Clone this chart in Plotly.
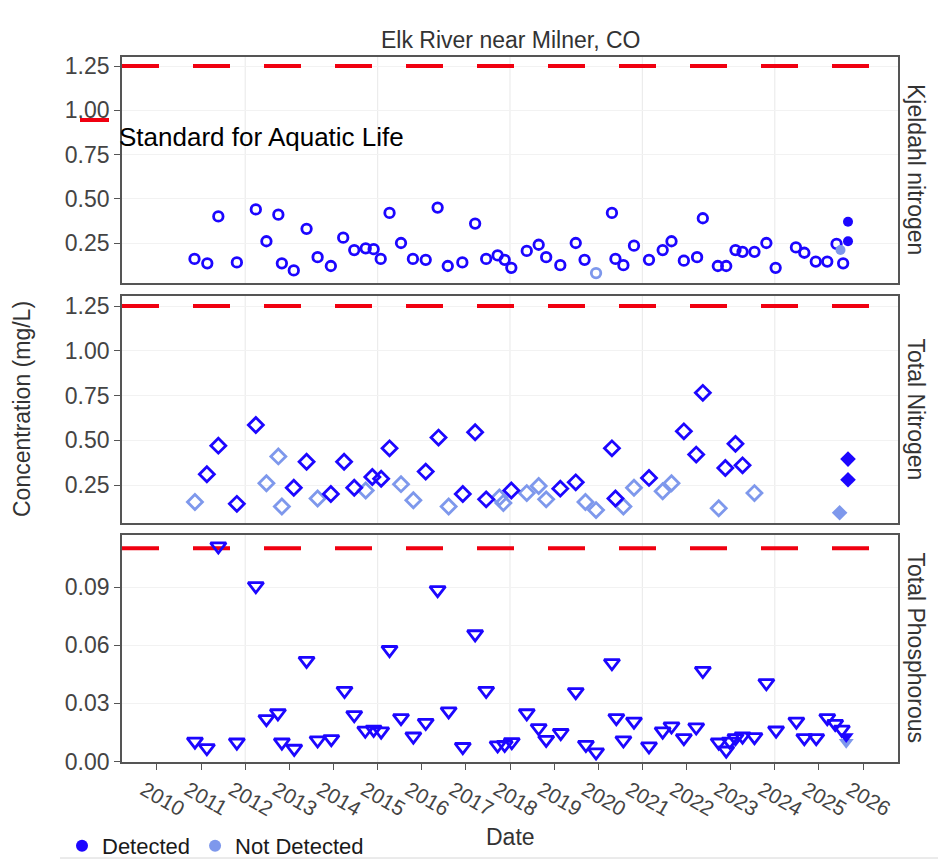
import plotly.graph_objects as go

# ---------------- data ----------------
# Kjeldahl nitrogen (mg/L)
kjn_det_year = [2010.85, 2011.14, 2011.39, 2011.81, 2012.24, 2012.48, 2012.75, 2012.83, 2013.10, 2013.39,
                2013.64, 2013.94, 2014.22, 2014.47, 2014.73, 2014.91, 2015.07, 2015.27, 2015.53, 2015.80,
                2016.09, 2016.36, 2016.59, 2016.92, 2017.21, 2017.46, 2017.72, 2017.88, 2018.03, 2018.38,
                2018.65, 2018.82, 2019.14, 2019.49, 2019.69, 2020.31, 2020.39, 2020.57, 2020.81, 2021.15,
                2021.46, 2021.66, 2021.94, 2022.24, 2022.37, 2022.71, 2022.90, 2023.11, 2023.27, 2023.54,
                2023.81, 2024.02, 2024.48, 2024.67, 2024.93, 2025.19, 2025.40, 2025.55]
kjn_det_val = [0.16, 0.135, 0.40, 0.14, 0.44, 0.26, 0.41, 0.135, 0.095, 0.33,
               0.17, 0.12, 0.28, 0.21, 0.22, 0.215, 0.16, 0.42, 0.25, 0.16,
               0.155, 0.45, 0.12, 0.14, 0.36, 0.16, 0.18, 0.155, 0.11, 0.205,
               0.24, 0.17, 0.125, 0.25, 0.155, 0.42, 0.16, 0.125, 0.235, 0.155,
               0.21, 0.26, 0.15, 0.17, 0.39, 0.12, 0.12, 0.21, 0.20, 0.20,
               0.25, 0.11, 0.225, 0.195, 0.145, 0.145, 0.245, 0.135]
kjn_nd_year = [2019.95]
kjn_nd_val = [0.08]
kjn_recent_det_year = [2025.66, 2025.66]
kjn_recent_det_val = [0.37, 0.26]
kjn_recent_nd_year = [2025.49]
kjn_recent_nd_val = [0.21]

# Total nitrogen (mg/L)
tn_det_year = [2011.13, 2011.39, 2011.81, 2012.24, 2013.10, 2013.39, 2013.94, 2014.24, 2014.47, 2014.88,
               2015.08, 2015.27, 2016.09, 2016.38, 2016.93, 2017.21, 2017.46, 2018.03, 2019.14, 2019.49,
               2020.31, 2020.39, 2021.15, 2021.94, 2022.22, 2022.37, 2022.88, 2023.11, 2023.27]
tn_det_val = [0.31, 0.47, 0.145, 0.585, 0.235, 0.38, 0.20, 0.38, 0.235, 0.295,
              0.285, 0.455, 0.325, 0.515, 0.20, 0.545, 0.17, 0.22, 0.23, 0.265,
              0.455, 0.175, 0.29, 0.55, 0.42, 0.765, 0.345, 0.48, 0.36]
tn_nd_year = [2010.86, 2012.48, 2012.75, 2012.83, 2013.64, 2014.73, 2015.53, 2015.81, 2016.61, 2017.76,
              2017.85, 2018.38, 2018.65, 2018.82, 2019.71, 2019.95, 2020.57, 2020.81, 2021.46, 2021.66,
              2022.73, 2023.54]
tn_nd_val = [0.155, 0.26, 0.41, 0.13, 0.175, 0.22, 0.255, 0.165, 0.13, 0.18,
             0.15, 0.205, 0.245, 0.17, 0.155, 0.11, 0.13, 0.235, 0.215, 0.26,
             0.12, 0.205]
tn_recent_det_year = [2025.66, 2025.66]
tn_recent_det_val = [0.395, 0.28]
tn_recent_nd_year = [2025.47]
tn_recent_nd_val = [0.095]

# Total phosphorous (mg/L)
tp_det_year = [2010.86, 2011.13, 2011.39, 2011.81, 2012.24, 2012.48, 2012.74, 2012.83, 2013.11, 2013.39,
               2013.64, 2013.95, 2014.25, 2014.47, 2014.72, 2014.91, 2015.08, 2015.27, 2015.53, 2015.81,
               2016.09, 2016.36, 2016.61, 2016.93, 2017.21, 2017.46, 2017.72, 2017.88, 2018.04, 2018.38,
               2018.65, 2018.82, 2019.15, 2019.49, 2019.72, 2019.95, 2020.31, 2020.41, 2020.57, 2020.81,
               2021.15, 2021.46, 2021.66, 2021.94, 2022.22, 2022.37, 2022.73, 2022.90, 2022.98, 2023.11,
               2023.27, 2023.54, 2023.81, 2024.03, 2024.49, 2024.67, 2024.94, 2025.19, 2025.37, 2025.52]
tp_det_val = [0.0104, 0.0070, 0.1110, 0.0099, 0.0905, 0.0220, 0.0250, 0.0099, 0.0067, 0.0520,
              0.0110, 0.0117, 0.0365, 0.0240, 0.0160, 0.0165, 0.0156, 0.0576, 0.0225, 0.0130,
              0.0200, 0.0885, 0.0260, 0.0076, 0.0657, 0.0365, 0.0084, 0.0087, 0.0101, 0.0250,
              0.0173, 0.0113, 0.0148, 0.0359, 0.0087, 0.0048, 0.0508, 0.0225, 0.0110, 0.0207,
              0.0079, 0.0156, 0.0182, 0.0122, 0.0177, 0.0468, 0.0099, 0.0058, 0.0104, 0.0122,
              0.0130, 0.0127, 0.0405, 0.0161, 0.0207, 0.0122, 0.0122, 0.0225, 0.0195, 0.0165]
tp_recent_det_year = [2025.62]
tp_recent_det_val = [0.013]
tp_recent_nd_year = [2025.62]
tp_recent_nd_val = [0.010]

# Aquatic-life standards drawn as dashed reference lines
standard_vals = [1.25, 1.25, 0.11]
panel_names = ["Kjeldahl nitrogen", "Total Nitrogen", "Total Phosphorous"]
year_ticks = list(range(2010, 2027))
grid_years = [2012, 2015, 2018, 2021, 2024]

# ---------------- styling ----------------
BLUE = "#1c06ff"
LIGHT = "#7e98ec"
RED = "#f00010"
FONT = "Liberation Sans, Arial, sans-serif"
TXT = "#333333"
TICK = "#444444"
BORDER = "#555555"

W, H = 938, 861
L, R, T, B = 122, 898, 57, 762          # plot area in pixels
panel_px = [(57, 283), (296, 523), (535, 762)]
x_range = [2009.207, 2026.793]


def px2x(px):
    return (px - L) / (R - L)


def py2y(py):
    return (B - py) / (B - T)


fig = go.Figure()

series = [
    (kjn_det_year, kjn_det_val, kjn_nd_year, kjn_nd_val,
     kjn_recent_det_year, kjn_recent_det_val, kjn_recent_nd_year, kjn_recent_nd_val,
     "circle", 9.5, 10),
    (tn_det_year, tn_det_val, tn_nd_year, tn_nd_val,
     tn_recent_det_year, tn_recent_det_val, tn_recent_nd_year, tn_recent_nd_val,
     "diamond", 11.5, 12),
    (tp_det_year, tp_det_val, [], [],
     tp_recent_det_year, tp_recent_det_val, tp_recent_nd_year, tp_recent_nd_val,
     "triangle-down", 13.5, 13),
]

for i, (dy, dv, ny, nv, rdy, rdv, rny, rnv, sym, sz, fsz) in enumerate(series):
    xa = "x" if i == 0 else f"x{i + 1}"
    ya = "y" if i == 0 else f"y{i + 1}"
    # standard line first so the samples sit on top of it
    fig.add_trace(go.Scatter(x=x_range, y=[standard_vals[i]] * 2, mode="lines", xaxis=xa, yaxis=ya,
                             showlegend=False, hoverinfo="skip",
                             line=dict(color=RED, width=4, dash="37px,34px")))
    if ny:
        fig.add_trace(go.Scatter(x=ny, y=nv, mode="markers", xaxis=xa, yaxis=ya, showlegend=False,
                                 marker=dict(symbol=sym + "-open", size=sz, color=LIGHT,
                                             line=dict(width=2.8, color=LIGHT))))
    fig.add_trace(go.Scatter(x=dy, y=dv, mode="markers", xaxis=xa, yaxis=ya, showlegend=False,
                             marker=dict(symbol=sym + "-open", size=sz, color=BLUE,
                                         line=dict(width=2.8, color=BLUE))))
    fig.add_trace(go.Scatter(x=rny, y=rnv, mode="markers", xaxis=xa, yaxis=ya,
                             name="Not Detected", legendgroup="nd", showlegend=(i == 0),
                             legendrank=2,
                             marker=dict(symbol=sym, size=fsz, color=LIGHT,
                                         line=dict(width=0))))
    fig.add_trace(go.Scatter(x=rdy, y=rdv, mode="markers", xaxis=xa, yaxis=ya,
                             name="Detected", legendgroup="det", showlegend=(i == 0),
                             legendrank=1,
                             marker=dict(symbol=sym, size=fsz, color=BLUE,
                                         line=dict(width=0))))

layout = dict(
    width=W, height=H,
    margin=dict(l=L, r=W - R, t=T, b=H - B, pad=0, autoexpand=False),
    paper_bgcolor="white", plot_bgcolor="white",
    font=dict(family=FONT, color=TXT),
    showlegend=True,
    legend=dict(orientation="h", x=px2x(62), y=py2y(846), xanchor="left", yanchor="middle",
                font=dict(size=22, color="#1a1a1a", family=FONT), bgcolor="rgba(0,0,0,0)",
                itemsizing="constant", traceorder="normal", itemwidth=30, tracegroupgap=0),
)

yranges = [[0.024, 1.301], [0.038, 1.306], [-0.0002, 0.1168]]
ydticks = [0.25, 0.25, 0.03]
ytick0 = [0.25, 0.25, 0.0]
shapes = []
annotations = []

for i in range(3):
    xk = "xaxis" if i == 0 else f"xaxis{i + 1}"
    yk = "yaxis" if i == 0 else f"yaxis{i + 1}"
    ya = "y" if i == 0 else f"y{i + 1}"
    xa = "x" if i == 0 else f"x{i + 1}"
    top, bot = panel_px[i]
    bottom = i == 2
    layout[xk] = dict(
        domain=[0, 1], anchor=ya, range=x_range, automargin=False,
        tickmode="array", tickvals=year_ticks, ticktext=[str(v) for v in year_ticks],
        showticklabels=bottom, ticks="outside" if bottom else "", ticklen=6, tickwidth=1.3,
        tickcolor=BORDER, tickangle=30, ticklabelshift=-13,
        tickfont=dict(size=21, color=TICK, family=FONT),
        showgrid=False, zeroline=False,
        showline=True, linecolor=BORDER, linewidth=1.6, mirror=True,
    )
    layout[yk] = dict(
        domain=[py2y(bot), py2y(top)], anchor=xa, range=yranges[i], automargin=False,
        tick0=ytick0[i], dtick=ydticks[i], tickformat=".2f",
        ticks="outside", ticklen=6, tickwidth=1.3, tickcolor=BORDER,
        tickfont=dict(size=23, color=TICK, family=FONT),
        showgrid=True, gridcolor="#f2f2f2", gridwidth=1, zeroline=False,
        showline=True, linecolor=BORDER, linewidth=1.6, mirror=True,
    )
    # faint vertical guides
    for gy in grid_years:
        shapes.append(dict(type="line", xref=xa, yref="paper",
                           x0=gy, x1=gy, y0=py2y(bot), y1=py2y(top),
                           line=dict(color="#ececec", width=1.2), layer="below"))
    # facet label on the right
    annotations.append(dict(text=panel_names[i], xref="paper", yref="paper",
                            x=px2x(916), y=py2y((top + bot) / 2), xanchor="center", yanchor="middle",
                            textangle=90, showarrow=False,
                            font=dict(size=23, color=TXT, family=FONT)))

# titles and labels
annotations += [
    dict(text="Elk River near Milner, CO", xref="paper", yref="paper", x=px2x(510), y=py2y(40),
         xanchor="center", yanchor="middle", showarrow=False, font=dict(size=23, color=TXT, family=FONT)),
    dict(text="Concentration (mg/L)", xref="paper", yref="paper", x=px2x(22), y=py2y(409),
         xanchor="center", yanchor="middle", textangle=-90, showarrow=False,
         font=dict(size=23, color=TXT, family=FONT)),
    dict(text="Date", xref="paper", yref="paper", x=px2x(510), y=py2y(837),
         xanchor="center", yanchor="middle", showarrow=False, font=dict(size=23, color=TXT, family=FONT)),
    dict(text="Standard for Aquatic Life", xref="paper", yref="paper", x=px2x(117), y=py2y(137),
         xanchor="left", yanchor="middle", showarrow=False, font=dict(size=26, color="black", family=FONT)),
]
shapes += [
    dict(type="line", xref="paper", yref="paper", x0=px2x(80), x1=px2x(109), y0=py2y(120), y1=py2y(120),
         line=dict(color=RED, width=4)),
    dict(type="line", xref="paper", yref="paper", x0=px2x(60), x1=px2x(938), y0=py2y(858), y1=py2y(858),
         line=dict(color="#d6d6d6", width=1)),
]
layout["shapes"] = shapes
layout["annotations"] = annotations
fig.update_layout(**layout)

fig.write_html("out.html")
